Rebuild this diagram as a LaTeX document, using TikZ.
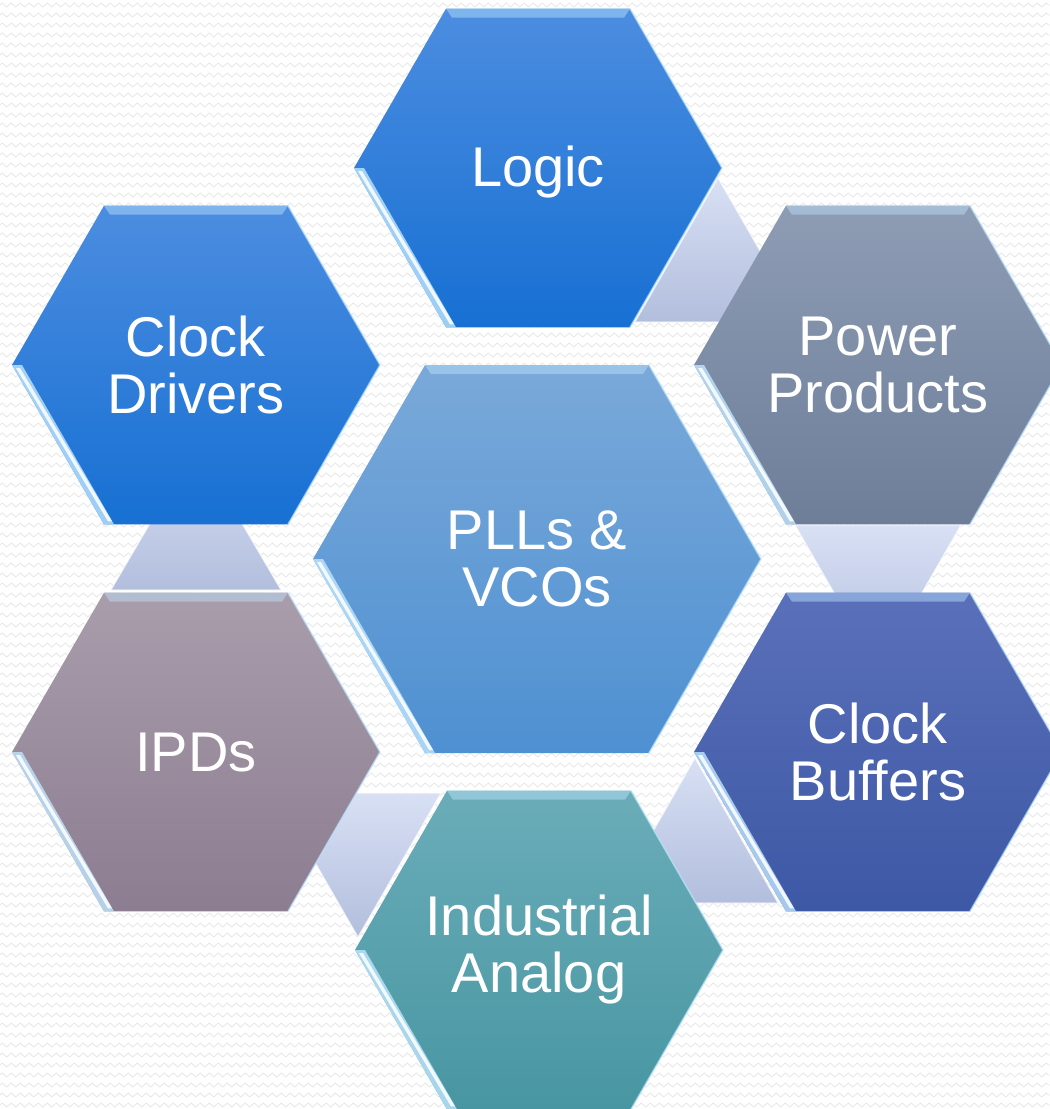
\documentclass[tikz,border=0pt]{standalone}
\usepackage{fontspec}
\setmainfont{Liberation Sans}
\usetikzlibrary{shapes.geometric,calc,decorations.pathmorphing}
\definecolor{gapTop}{HTML}{D8E0F4}
\definecolor{gapBot}{HTML}{B2BEDD}
\definecolor{logicTop}{HTML}{4C8DE0}
\definecolor{logicBot}{HTML}{1770D3}
\definecolor{powTop}{HTML}{8E9CB4}
\definecolor{powBot}{HTML}{6E7E99}
\definecolor{bufTop}{HTML}{5B70BA}
\definecolor{bufBot}{HTML}{3D58A5}
\definecolor{indTop}{HTML}{6AADB9}
\definecolor{indBot}{HTML}{4896A2}
\definecolor{ipdTop}{HTML}{A99DAC}
\definecolor{ipdBot}{HTML}{8C7D90}
\definecolor{pllTop}{HTML}{7AA9D9}
\definecolor{pllBot}{HTML}{4E90D2}
\definecolor{bgLine}{HTML}{E9E9E9}
\definecolor{rimBlue}{HTML}{BFE6FF}
% corners: 1 top-right, 2 top-left, 3 left, 4 bottom-left, 5 bottom-right, 6 right
\newcommand\hexbevel[1]{%
  \fill[rimBlue,opacity=0.45] (#1.corner 2) -- (#1.corner 1) -- ($(#1.corner 1)+(-6,9)$) -- ($(#1.corner 2)+(6,9)$) -- cycle;
  \fill[rimBlue,opacity=0.8] (#1.corner 3) -- (#1.corner 4) -- ($(#1.corner 4)+(10,0)$) -- ($(#1.corner 3)+(10,0)$) -- cycle;
  \fill[white,opacity=0.85] ($(#1.corner 3)+(4,3)$) -- ($(#1.corner 4)+(4,-3)$) -- ($(#1.corner 4)+(8,-3)$) -- ($(#1.corner 3)+(8,3)$) -- cycle;
  \draw[rimBlue,opacity=0.7,line width=1.5pt,line join=round] (#1.corner 1) -- (#1.corner 6) -- (#1.corner 5);
}
\begin{document}
\begin{tikzpicture}[x=1pt,y=-1pt,
  hexbox/.style={regular polygon, regular polygon sides=6, minimum size=368pt,
    inner sep=0pt, outer sep=0pt},
  bighex/.style={hexbox, minimum size=448pt},
  hextext/.style={text=white, align=center, font=\fontsize{56}{57}\selectfont},
  gaptri/.style={top color=gapTop, bottom color=gapBot},
  triedge/.style={draw=white, draw opacity=0.6, line width=1.2pt, line join=round},
  bgzig/.style={draw=bgLine, line width=0.9pt, decorate,
    decoration={zigzag, segment length=9pt, amplitude=2pt}}
]
\useasboundingbox (0,0) rectangle (1050,1109);
\clip (0,0) rectangle (1050,1109);
\fill[white] (0,0) rectangle (1050,1109);
\foreach \yy in {5,15,...,1105} {
  \draw[bgzig] (0,\yy) -- (1050,\yy);
}

% gap triangles
\coordinate (t1a) at (718,178);
\coordinate (t1b) at (635,322);
\coordinate (t1c) at (801,322);
\coordinate (t2a) at (795,525);
\coordinate (t2b) at (961,525);
\coordinate (t2c) at (878,669);
\coordinate (t3a) at (695,758);
\coordinate (t3b) at (612,903);
\coordinate (t3c) at (778,903);
\coordinate (t4a) at (275,793);
\coordinate (t4b) at (441,793);
\coordinate (t4c) at (358,937);
\coordinate (t5a) at (196,445);
\coordinate (t5b) at (111,590);
\coordinate (t5c) at (281,590);
\foreach \t in {t1,t2,t3,t4,t5} {
  \path[gaptri] (\t a) -- (\t b) -- (\t c) -- cycle;
  \path[triedge] (\t a) -- (\t b) -- (\t c) -- cycle;
}

% hexagons
\node[bighex, top color=pllTop, bottom color=pllBot] (pll) at (537,559) {};
\node[hexbox, top color=logicTop, bottom color=logicBot] (logic) at (538,168) {};
\node[hexbox, top color=logicTop, bottom color=logicBot] (drv) at (196,365) {};
\node[hexbox, top color=powTop, bottom color=powBot] (pow) at (878,365) {};
\node[hexbox, top color=bufTop, bottom color=bufBot] (buf) at (878,752) {};
\node[hexbox, top color=indTop, bottom color=indBot] (ind) at (539,950) {};
\node[hexbox, top color=ipdTop, bottom color=ipdBot] (ipd) at (196,752) {};

\foreach \h in {pll,logic,drv,pow,buf,ind,ipd} {
  \hexbevel{\h}
}
% labels
\node[hextext] (pllT) at (pll) {PLLs \&\\VCOs};
\node[hextext, yshift=-4pt] (logicT) at (logic) {Logic};
\node[hextext] (drvT) at (drv) {Clock\\Drivers};
\node[hextext] (powT) at (pow) {Power\\Products};
\node[hextext] (bufT) at (buf) {Clock\\Buffers};
\node[hextext] (indT) at (ind) {Industrial\\Analog};
\node[hextext] (ipdT) at (ipd) {IPDs};
\end{tikzpicture}
\end{document}
